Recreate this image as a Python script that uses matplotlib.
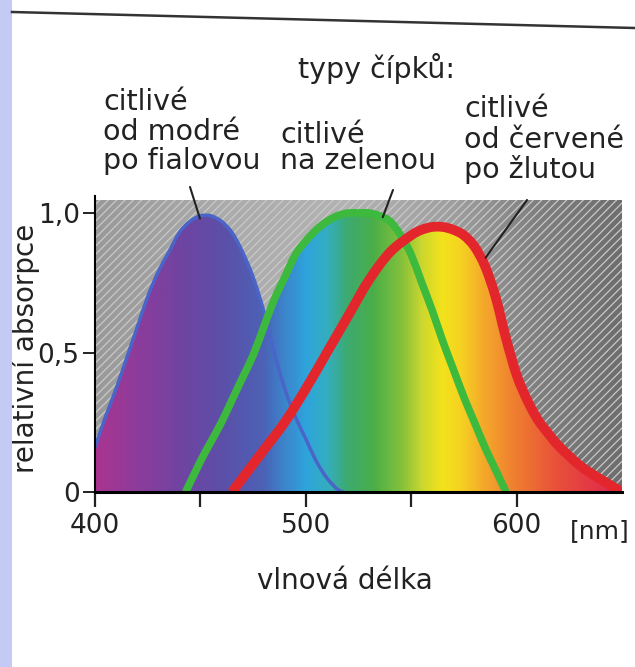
import numpy as np
import matplotlib
matplotlib.use("Agg")
import matplotlib.pyplot as plt
from matplotlib.colors import LinearSegmentedColormap
from matplotlib.patches import Rectangle, PathPatch
from matplotlib.path import Path
from matplotlib.lines import Line2D

plt.rcParams['font.family'] = ['DejaVu Sans']
plt.rcParams['hatch.linewidth'] = 0.9

# ---- data ----
blue_nm = [400, 405, 410, 415, 420, 425, 430, 435, 440, 445, 450, 455, 460, 465, 470,
           475, 480, 485, 490, 495, 500, 505, 510, 515, 518]
blue_v = [0.16, 0.27, 0.37, 0.48, 0.59, 0.70, 0.79, 0.86, 0.93, 0.97, 0.99, 0.99, 0.97,
          0.93, 0.86, 0.77, 0.65, 0.50, 0.37, 0.27, 0.19, 0.11, 0.05, 0.01, 0.0]

green_nm = [443, 450, 455, 460, 465, 470, 475, 480, 485, 490, 495, 500, 505, 510, 515,
            520, 525, 530, 535, 540, 545, 550, 555, 560, 565, 570, 575, 580, 585, 590, 595]
green_v = [0.0, 0.11, 0.18, 0.25, 0.33, 0.41, 0.49, 0.59, 0.69, 0.77, 0.85, 0.90, 0.94,
           0.97, 0.99, 1.0, 1.0, 1.0, 0.99, 0.97, 0.92, 0.85, 0.75, 0.65, 0.54, 0.44,
           0.34, 0.25, 0.16, 0.08, 0.0]

red_nm = [465, 470, 480, 490, 500, 510, 520, 530, 540, 550, 555, 560, 565, 570, 575,
          580, 585, 590, 595, 600, 605, 610, 615, 620, 630, 640, 650]
red_v = [0.0, 0.05, 0.15, 0.25, 0.37, 0.50, 0.63, 0.76, 0.86, 0.92, 0.94, 0.95, 0.95,
         0.94, 0.92, 0.88, 0.81, 0.70, 0.55, 0.42, 0.33, 0.26, 0.21, 0.165, 0.095, 0.045, 0.0]

xtick_vals = [400, 450, 500, 550, 600]
xtick_labels = ['400', '', '500', '', '600']
ytick_vals = [0, 0.5, 1.0]
ytick_labels = ['0', '0,5', '1,0']

title_text = 'typy čípků:'
label_blue = ['citlivé', 'od modré', 'po fialovou']
label_green = ['citlivé', 'na zelenou']
label_red = ['citlivé', 'od červené', 'po žlutou']
xlabel = 'vlnová délka'
ylabel = 'relativní absorpce'
unit = '[nm]'

# spectrum colours (style)
spec_nm = [400, 420, 440, 460, 480, 490, 500, 510, 520, 532, 545, 555, 565, 575, 585,
           600, 620, 640, 650]
spec_col = ['#aa3490', '#8c3c9c', '#7044a2', '#5c4fa8', '#4c62b6', '#3b86cc', '#2ea3dc',
            '#34aec0', '#3daa70', '#4aae48', '#80c03c', '#c8d630', '#f3e21c', '#f6cf22',
            '#f4a82a', '#ef7d30', '#e8503a', '#e23248', '#d92a55']
bg_nm = [400, 460, 520, 570, 610, 650]
bg_gray = [0.60, 0.67, 0.70, 0.62, 0.50, 0.43]

W, H = 635, 667
fig = plt.figure(figsize=(W / 100, H / 100), dpi=100)
fig.patch.set_facecolor('white')

ax = fig.add_axes([95 / W, (H - 492) / H, 527 / W, 296 / H])


def smooth_path(x, y, close_to_base=False):
    """Catmull-Rom curve through the given points, as cubic Bezier segments."""
    p = np.column_stack([x, y]).astype(float)
    n = len(p)
    verts = [p[0]]
    codes = [Path.MOVETO]
    for i in range(n - 1):
        p0 = p[i - 1] if i > 0 else p[i]
        p1, p2 = p[i], p[i + 1]
        p3 = p[i + 2] if i + 2 < n else p[i + 1]
        c1 = p1 + (p2 - p0) / 6.0
        c2 = p2 - (p3 - p1) / 6.0
        verts += [c1, c2, p2]
        codes += [Path.CURVE4] * 3
    if close_to_base:
        verts += [(x[-1], 0), (x[0], 0), (x[0], 0)]
        codes += [Path.LINETO, Path.LINETO, Path.CLOSEPOLY]
    return Path(np.array(verts), codes)


# gray hatched background
xs = np.linspace(400, 650, 400)
g = np.interp(xs, bg_nm, bg_gray)
bg = np.stack([g, g, g], axis=-1)[None, :, :]
bg = np.repeat(bg, 2, axis=0)
ax.imshow(bg, extent=(400, 650, 0, 1.045), aspect='auto', origin='lower',
          interpolation='bilinear', zorder=0)
ax.add_patch(Rectangle((400, 0), 250, 1.045, facecolor='none', edgecolor='#c9c9c9',
                       hatch='////', lw=0, zorder=1))

# spectrum fills under curves
pos = [(n - 400) / 250 for n in spec_nm]
cmap = LinearSegmentedColormap.from_list('spec', list(zip(pos, spec_col)))
spec = cmap(np.linspace(0, 1, 500))[None, :, :3]
for nm, v in [(blue_nm, blue_v), (green_nm, green_v), (red_nm, red_v)]:
    poly = PathPatch(smooth_path(nm, v, close_to_base=True), facecolor='none',
                     edgecolor='none')
    ax.add_patch(poly)
    im = ax.imshow(spec, extent=(400, 650, 0, 1.05), aspect='auto', origin='lower',
                   interpolation='bilinear', zorder=2)
    im.set_clip_path(poly)

# curves
ax.add_patch(PathPatch(smooth_path(blue_nm, blue_v), facecolor='none',
                       edgecolor='#4a64c8', lw=2.5, zorder=3))
ax.add_patch(PathPatch(smooth_path(green_nm, green_v), facecolor='none',
                       edgecolor='#3dba3d', lw=5.5, zorder=4, capstyle='butt'))
ax.add_patch(PathPatch(smooth_path(red_nm, red_v), facecolor='none',
                       edgecolor='#e3262b', lw=7, zorder=5, capstyle='butt'))

ax.set_xlim(400, 650)
ax.set_ylim(0, 1.061)

for s in ['top', 'right']:
    ax.spines[s].set_visible(False)
ax.spines['left'].set_linewidth(1.5)
ax.spines['bottom'].set_linewidth(2.2)
ax.spines['left'].set_zorder(6)
ax.spines['bottom'].set_zorder(6)

ax.set_xticks(xtick_vals)
ax.set_xticklabels(xtick_labels)
ax.set_yticks(ytick_vals)
ax.set_yticklabels(ytick_labels)
ax.tick_params(axis='x', direction='out', length=11, width=1.6, pad=4, labelsize=19,
               colors='#222222')
ax.tick_params(axis='y', direction='out', length=9, width=1.4, pad=2, labelsize=19,
               colors='#222222')

ax.set_xlabel(xlabel, fontsize=20, color='#222222')
ax.xaxis.set_label_coords(0.474, -0.255)
ax.set_ylabel(ylabel, fontsize=20, color='#222222')
ax.yaxis.set_label_coords(-0.105, 0.486)

ax.text(0.957, -0.132, unit, transform=ax.transAxes, ha='center', va='center',
        fontsize=18, color='#222222')

# labels
def fig_text(x, y, s, **kw):
    fig.text(x / W, 1 - y / H, s, fontsize=20.5, color='#222222', va='baseline', **kw)

fig_text(376, 78, title_text, ha='center')
for s, y in zip(label_blue, [110, 140, 169]):
    fig_text(103, y, s, ha='left')
for s, y in zip(label_green, [143, 169]):
    fig_text(280, y, s, ha='left')
for s, y in zip(label_red, [117, 148, 178]):
    fig_text(464, y, s, ha='left')

# pointer lines
arrow = dict(arrowstyle='-', color='#222222', lw=1.5, shrinkA=0, shrinkB=0)
ax.annotate('', xy=(449.8, 0.98), xycoords='data', xytext=(190, H - 187),
            textcoords='figure pixels', arrowprops=arrow, zorder=7)
ax.annotate('', xy=(536.5, 0.985), xycoords='data', xytext=(393, H - 190),
            textcoords='figure pixels', arrowprops=arrow, zorder=7)
ax.annotate('', xy=(585.3, 0.84), xycoords='data', xytext=(527, H - 200),
            textcoords='figure pixels', arrowprops=arrow, zorder=7)

# page decorations
fig.add_artist(Rectangle((0, 0), 12 / W, 1, transform=fig.transFigure,
                         facecolor='#c3caf3', edgecolor='none'))
fig.add_artist(Line2D([12 / W, 1], [1 - 12 / H, 1 - 28 / H], transform=fig.transFigure,
                      color='#333333', lw=1.8))

fig.savefig('out.png', dpi=100)
